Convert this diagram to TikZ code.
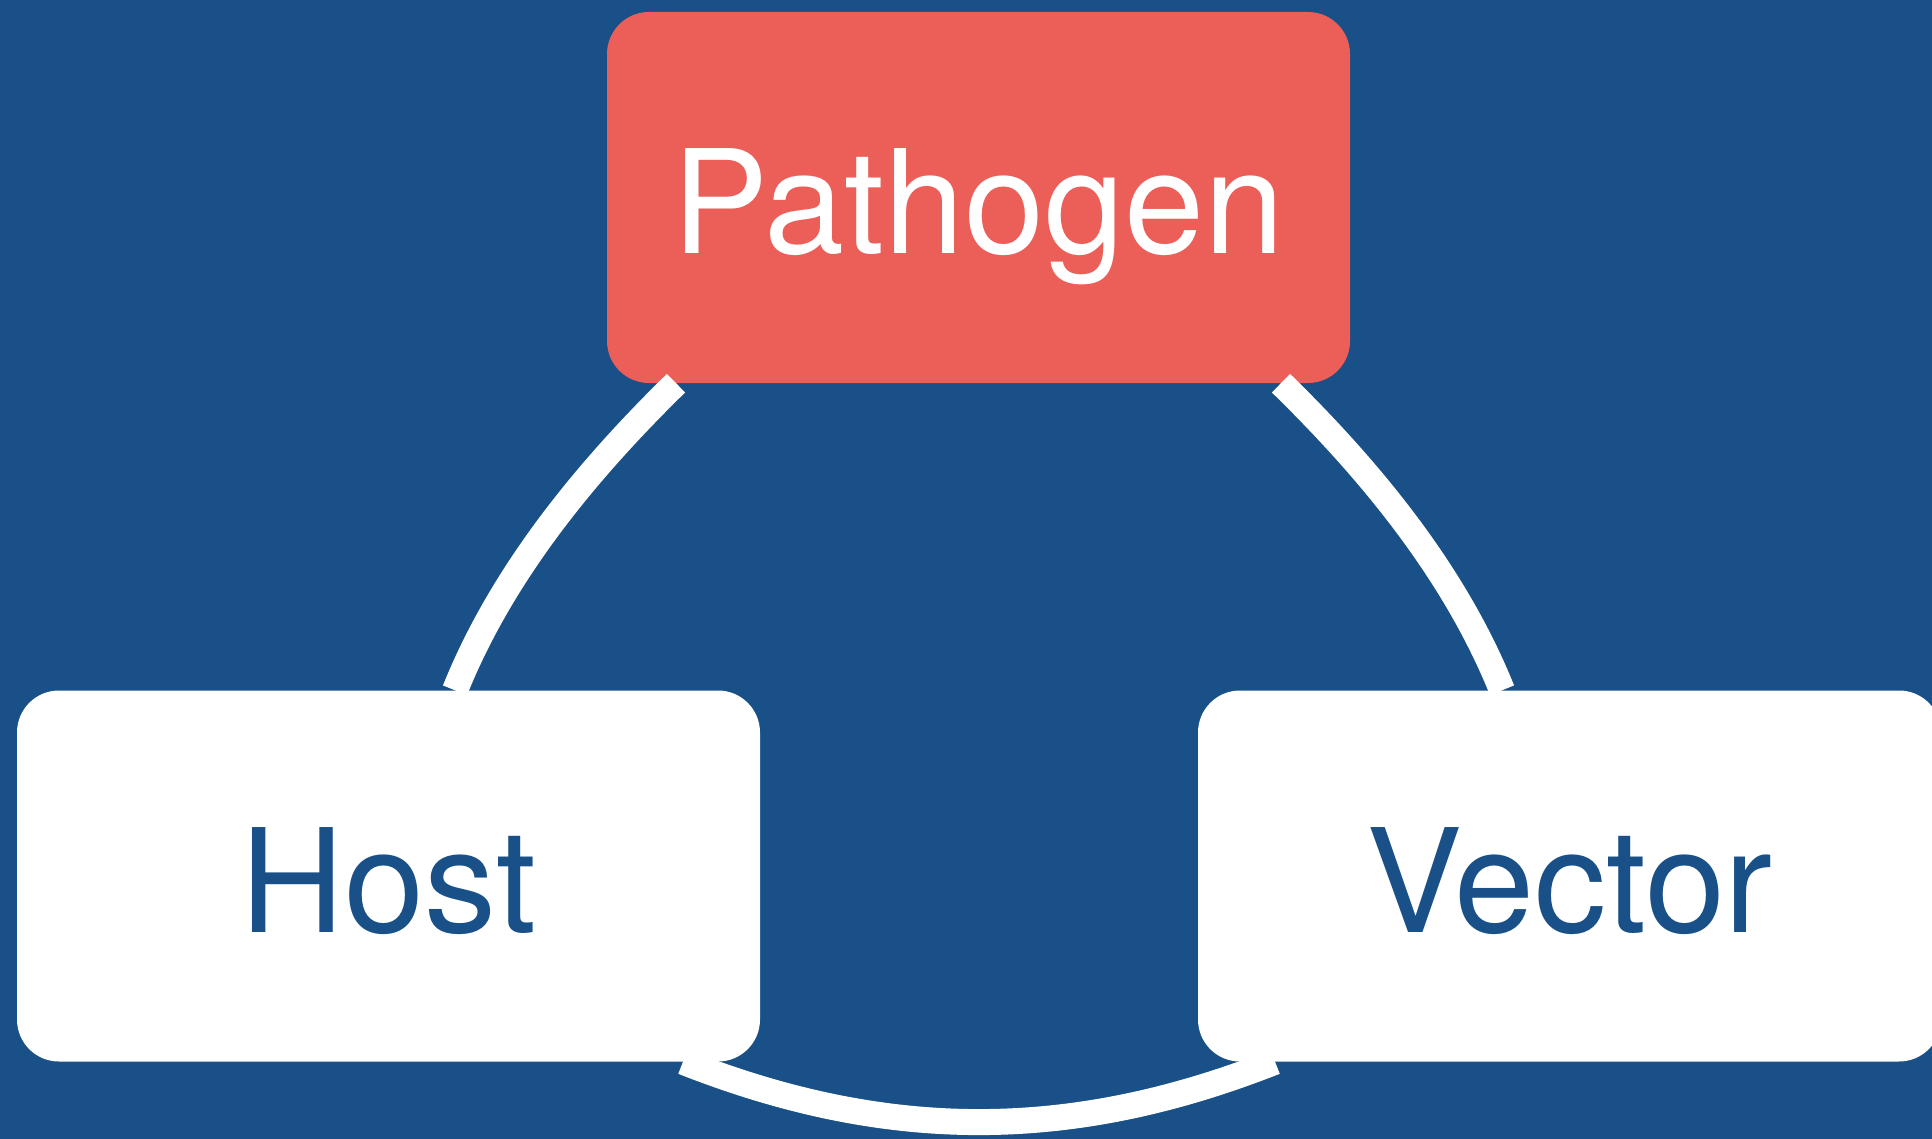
\documentclass[tikz,border=0pt]{standalone}
\usepackage{fontspec}
\setmainfont{TeX Gyre Heros}
\usetikzlibrary{calc}
\definecolor{bgblue}{RGB}{24,80,135}
\definecolor{pathred}{RGB}{236,94,88}
\tikzset{
  box/.style={rectangle, rounded corners=42pt, minimum width=743pt, minimum height=371pt,
    inner sep=0pt, text height=112pt, text depth=0pt,
    font=\fontsize{144}{150}\selectfont},
  link/.style={draw=white, line width=26pt, line cap=butt}
}
\begin{document}
\begin{tikzpicture}[x=1pt,y=-1pt]
\useasboundingbox (0,0) rectangle (1932,1139);
\clip (0,0) rectangle (1932,1139);
\fill[bgblue] (0,0) rectangle (1932,1139);
\node[box, fill=pathred, text=white] (P) at (978.5,197.5) {Pathogen};
\node[box, fill=white, text=bgblue] (H) at (388.5,876) {Host};
\node[box, fill=white, text=bgblue] (V) at (1569.5,876) {Vector};
\coordinate (a1) at ($(P.south)+(-302.5,0)$);
\coordinate (b1) at ($(H.north)+(66.5,0)$);
\coordinate (a2) at ($(P.south)+(302.5,0)$);
\coordinate (b2) at ($(V.north)+(-67.5,0)$);
\coordinate (c1) at ($(H.south)+(294.5,0)$);
\coordinate (c2) at ($(V.south)+(-294.5,0)$);
\draw[link] (a1) .. controls +(-90,88) and +(47,-117) .. (b1);
\draw[link] (a2) .. controls +(90,88) and +(-47,-117) .. (b2);
\draw[link] (c1) .. controls +(204,80.5) and +(-204,80.5) .. (c2);
\end{tikzpicture}
\end{document}
